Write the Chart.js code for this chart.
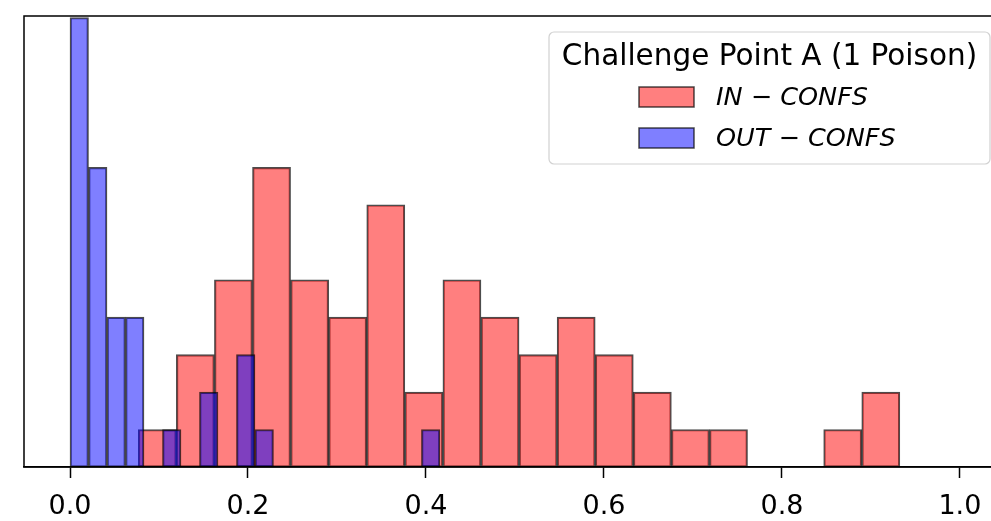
<!DOCTYPE html>
<html>
<head>
<meta charset="utf-8">
<script src="https://cdn.jsdelivr.net/npm/chart.js@4"></script>
<style>
    html, body { margin: 0; padding: 0; overflow: hidden; background: #fff; }
    #wrap { width: 1042px; height: 521px; }
</style>
</head>
<body>
<div id="wrap"><canvas id="histChart"></canvas></div>
<script>
const legendTitle = 'Challenge Point A (1 Poison)'
const seriesLabels = ['IN \u2212 CONFS', 'OUT \u2212 CONFS']

// first and last bin edge of each histogram (20 equal bins)
const inEdges = [0.0767, 0.9325]
const outEdges = [0.0, 0.4157]

// counts per bin
const inCounts = [1, 3, 5, 8, 5, 4, 7, 2, 5, 4, 3, 4, 3, 2, 1, 1, 0, 0, 1, 2]
const outCounts = [12, 8, 4, 4, 0, 1, 0, 2, 0, 3, 1, 0, 0, 0, 0, 0, 0, 0, 0, 1]

const xTicks = [0.0, 0.2, 0.4, 0.6, 0.8, 1.0]
const xRange = [-0.0517, 1.09]
const yMax = 12.04

const inColor = 'rgba(255, 0, 0, 0.5)'
const outColor = 'rgba(0, 0, 255, 0.5)'
const edgeColor = 'rgba(0, 0, 0, 0.7)'
const font = '"DejaVu Sans", sans-serif'

// bin centres for a bar on a linear axis
function binPoints(edges, counts) {
    const w = (edges[1] - edges[0]) / counts.length
    return counts.map((c, i) => ({ x: edges[0] + w * (i + 0.5), y: c }))
}

// matplotlib-like frame round the axes
const frame = {
    id: 'frame',
    afterDatasetsDraw(chart) {
        const { ctx, chartArea: a } = chart
        ctx.save()
        ctx.strokeStyle = '#000'
        ctx.lineWidth = 1.5
        ctx.strokeRect(a.left, a.top, a.right - a.left, a.bottom - a.top)
        ctx.restore()
    }
}

// legend box with title, drawn inside the axes
const boxLegend = {
    id: 'boxLegend',
    afterDraw(chart) {
        const ctx = chart.ctx
        const top = chart.chartArea.top
        const left = 549, right = 990
        const boxTop = top + 16, boxBottom = top + 148
        ctx.save()
        ctx.beginPath()
        ctx.roundRect(left, boxTop, right - left, boxBottom - boxTop, 5)
        ctx.fillStyle = 'rgba(255,255,255,0.8)'
        ctx.fill()
        ctx.strokeStyle = 'rgba(204,204,204,0.9)'
        ctx.lineWidth = 1.2
        ctx.stroke()

        ctx.fillStyle = '#000'
        ctx.textBaseline = 'middle'
        ctx.textAlign = 'center'
        ctx.font = '29.5px ' + font
        ctx.fillText(legendTitle, (left + right) / 2, top + 41)

        ctx.textAlign = 'left'
        ctx.font = 'italic 25.5px ' + font
        chart.data.datasets.forEach((ds, i) => {
            const cy = top + 81 + i * 41
            ctx.fillStyle = '#fff'
            ctx.fillRect(639, cy - 10, 55, 20)
            ctx.fillStyle = ds.backgroundColor
            ctx.fillRect(639, cy - 10, 55, 20)
            ctx.strokeStyle = ds.borderColor
            ctx.lineWidth = 1.5
            ctx.strokeRect(639, cy - 10, 55, 20)
            ctx.fillStyle = '#000'
            ctx.fillText(ds.label, 716, cy + 1)
        })
        ctx.restore()
    }
}

const ctx = document.getElementById('histChart').getContext('2d')
const chart = new Chart(ctx, {
    type: 'bar',
    data: {
        datasets: [{
            label: seriesLabels[0],
            data: binPoints(inEdges, inCounts),
            xAxisID: 'xIn',
            backgroundColor: inColor,
            borderColor: edgeColor,
            borderWidth: 1.5,
            borderSkipped: false,
            barPercentage: 1,
            categoryPercentage: 1,
            grouped: false,
            order: 2
        }, {
            label: seriesLabels[1],
            data: binPoints(outEdges, outCounts),
            xAxisID: 'x',
            backgroundColor: outColor,
            borderColor: edgeColor,
            borderWidth: 1.5,
            borderSkipped: false,
            barPercentage: 1,
            categoryPercentage: 1,
            grouped: false,
            order: 1
        }]
    },
    options: {
        responsive: true,
        maintainAspectRatio: false,
        animation: false,
        layout: {
            padding: { left: 24, top: 16, right: 2, bottom: 0 }
        },
        plugins: {
            legend: { display: false },
            tooltip: { enabled: false }
        },
        scales: {
            x: {
                type: 'linear',
                min: xRange[0],
                max: xRange[1],
                offset: false,
                afterBuildTicks: axis => {
                    axis.ticks = xTicks.map(v => ({ value: v }))
                },
                afterFit: axis => { axis.height = 54 },
                ticks: {
                    color: '#000',
                    padding: 13,
                    maxRotation: 0,
                    autoSkip: false,
                    font: { family: font, size: 27 },
                    callback: v => v.toFixed(1)
                },
                grid: {
                    offset: false,
                    drawOnChartArea: false,
                    drawTicks: true,
                    tickLength: 11,
                    tickWidth: 1.5,
                    tickColor: '#000'
                },
                border: { display: true, color: '#000', width: 1.5 }
            },
            xIn: {
                type: 'linear',
                display: false,
                min: xRange[0],
                max: xRange[1],
                offset: false,
                grid: { offset: false }
            },
            y: {
                display: false,
                min: 0,
                max: yMax
            }
        }
    },
    plugins: [frame, boxLegend]
})
</script>
</body>
</html>
